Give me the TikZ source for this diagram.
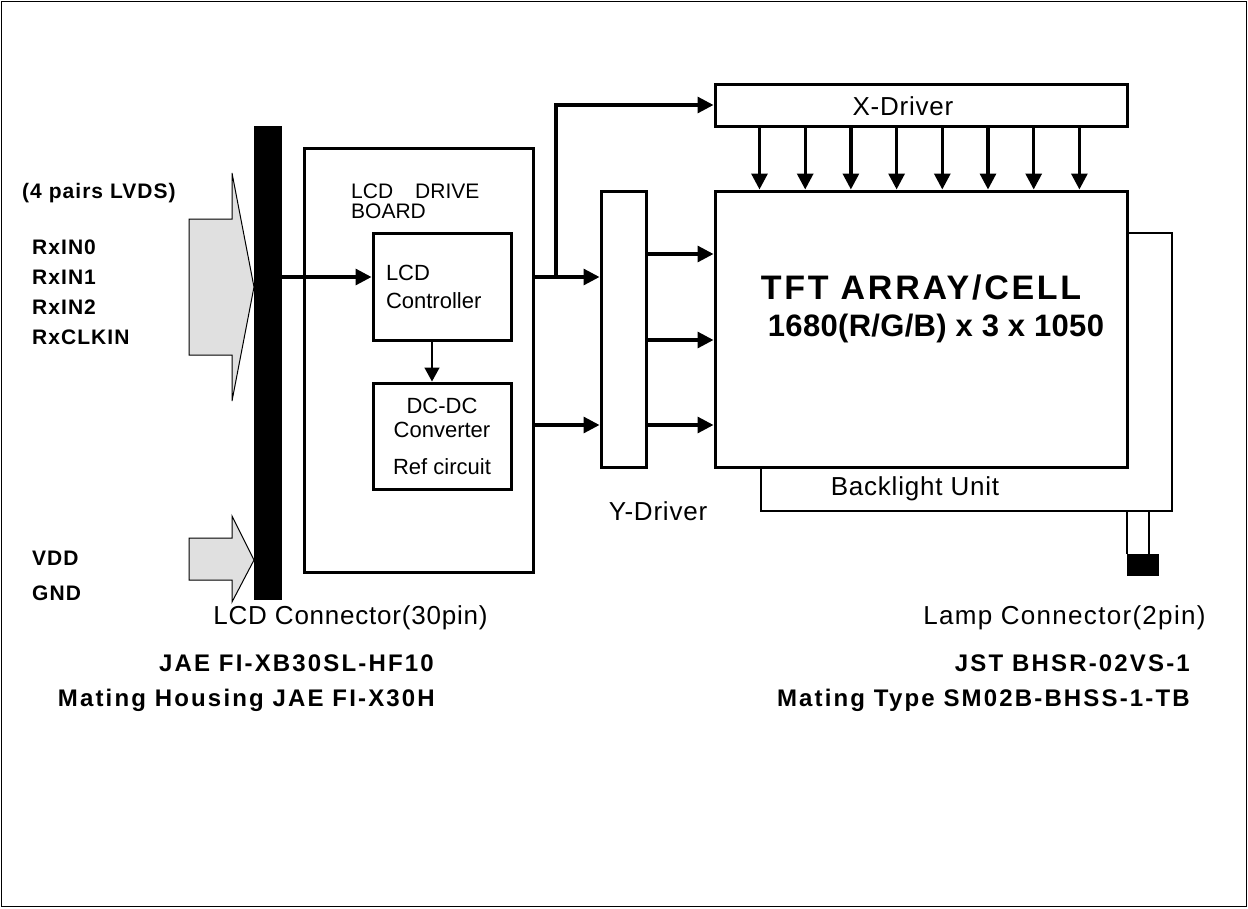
\documentclass[tikz,border=0pt]{standalone}
\usepackage{fontspec}
\setmainfont{Liberation Sans}
\usepackage{tikz}
\usetikzlibrary{arrows.meta, calc}
\definecolor{arrowgray}{HTML}{E0E0E0}

\begin{document}
\begin{tikzpicture}[
  x=1pt, y=-1pt,
  box/.style={draw, line width=3pt, fill=white, inner sep=0pt},
  thinbox/.style={draw, line width=1.5pt, inner sep=0pt},
  lbl/.style={inner sep=0pt, font=\fontsize{26}{30}\selectfont\addfontfeature{LetterSpace=3}},
  small/.style={inner sep=0pt, font=\fontsize{22}{28}\selectfont},
  pin/.style={inner sep=0pt, anchor=west,
    font=\fontsize{21}{24}\selectfont\bfseries\addfontfeature{LetterSpace=5}},
  part/.style={inner sep=0pt, anchor=east,
    font=\fontsize{24}{27}\selectfont\bfseries\addfontfeature{LetterSpace=9}},
  arr/.style={-{Triangle[length=16pt, width=16pt]}, line width=3.2pt},
  thinarr/.style={-{Triangle[length=14pt, width=15pt]}, line width=1.5pt},
  bigarrow/.style={draw, line width=1pt, fill=arrowgray}
]
  \useasboundingbox (0,0) rectangle (1248,908);
  \draw[line width=1.8pt] (1.5,1.5) rectangle (1246.5,906.5);

  \node[fill=black, minimum width=28, minimum height=474, inner sep=0pt] (conn) at (268,363) {};
  \draw[bigarrow] (189,219) -- (232,219) -- (232,173) -- (254,287) -- (232,401) -- (232,355) -- (189,355) -- cycle;
  \draw[bigarrow] (189,538) -- (232,538) -- (232,516) -- (254,560) -- (232,602) -- (232,580) -- (189,580) -- cycle;

  \node[pin] (lvds) at (22,193) {(4 pairs LVDS)};
  \foreach \t [count=\i from 0] in {RxIN0,RxIN1,RxIN2,RxCLKIN}
    \node[pin] (rx\i) at (32,247+30*\i) {\t};
  \node[pin] (vdd) at (32,558) {VDD};
  \node[pin] (gnd) at (32,593) {GND};

  \node[box, minimum width=229, minimum height=424] (board) at (418.5,360) {};
  \node[small, anchor=north west, align=left, font=\fontsize{21}{20}\selectfont] (boardlbl) at (351,184) {LCD\hspace{22pt}DRIVE\\BOARD};
  \node[box, small, minimum width=138, minimum height=107, align=left, text width=112] (ctrl) at (442,286.5) {LCD\\Controller};
  \node[box, small, minimum width=138, minimum height=106, align=center, font=\fontsize{22}{24}\selectfont] (dcdc) at (442,436) {DC-DC\\Converter\\[13pt]Ref circuit};

  \node[box, minimum width=45, minimum height=276] (ydrv) at (623.5,329) {};
  \node[lbl] (ylbl) at (658,511) {Y-Driver};

  \node[thinbox, minimum width=411, minimum height=278] (blu) at (966.5,372) {};
  \node[lbl] (blulbl) at (915,489) {Backlight Unit};
  \node[box, minimum width=412, minimum height=276] (tft) at (921,329) {};
  \node[inner sep=0pt, font=\fontsize{34}{38}\selectfont\bfseries\addfontfeature{LetterSpace=8}] (tfttitle) at (921,288) {TFT ARRAY/CELL};
  \node[inner sep=0pt, font=\fontsize{31}{35}\selectfont\bfseries\addfontfeature{LetterSpace=1}] (tftres) at (936,328) {1680(R/G/B) x 3 x 1050};

  \node[box, minimum width=412, minimum height=42] (xdrv) at (921,105) {};
  \node[lbl] (xlbl) at (903,106) {X-Driver};

  \node[fill=black, minimum width=32, minimum height=22, inner sep=0pt] (lamp) at (1143,565) {};
  \draw[line width=1.5pt] (lamp.north west) -- (lamp.north west |- blu.south);
  \draw[line width=1.5pt] ($(lamp.north west)+(22,0)$) -- ($(lamp.north west |- blu.south)+(22,0)$);

  \coordinate (sig) at (0,277);
  \coordinate (pwr) at (0,425);
  \coordinate (split) at (556,277);
  \draw[arr] (conn.east |- sig) -- (ctrl.west |- sig);
  \draw[thinarr] ($(ctrl.south)+(-10,0)$) -- ($(dcdc.north)+(-10,0)$);
  \draw[arr] (board.east |- sig) -- (ydrv.west |- sig);
  \draw[arr] (split) |- (xdrv.west);
  \draw[arr] (board.east |- pwr) -- (ydrv.west |- pwr);
  \foreach \yy [count=\k] in {254,340,425} {
    \coordinate (yo\k) at (0,\yy);
    \draw[arr] (ydrv.east |- yo\k) -- (tft.west |- yo\k);
  }
  \foreach \i in {0,...,7}
    \draw[arr] ($(xdrv.south west)+(46+45.7*\i,0)$) -- ($(tft.north west)+(46+45.7*\i,0)$);

  \node[lbl] (lcdconn) at (350.5,618) {LCD Connector(30pin)};
  \node[part] (jae) at (434,663) {JAE FI-XB30SL-HF10};
  \node[part] (housing) at (435,700) {Mating Housing JAE FI-X30H};
  \node[lbl, font=\fontsize{26}{30}\selectfont\addfontfeature{LetterSpace=5}] (lampconn) at (1064.5,618) {Lamp Connector(2pin)};
  \node[part] (jst) at (1190,663) {JST BHSR-02VS-1};
  \node[part] (mating) at (1190,700) {Mating Type SM02B-BHSS-1-TB};
\end{tikzpicture}
\end{document}
